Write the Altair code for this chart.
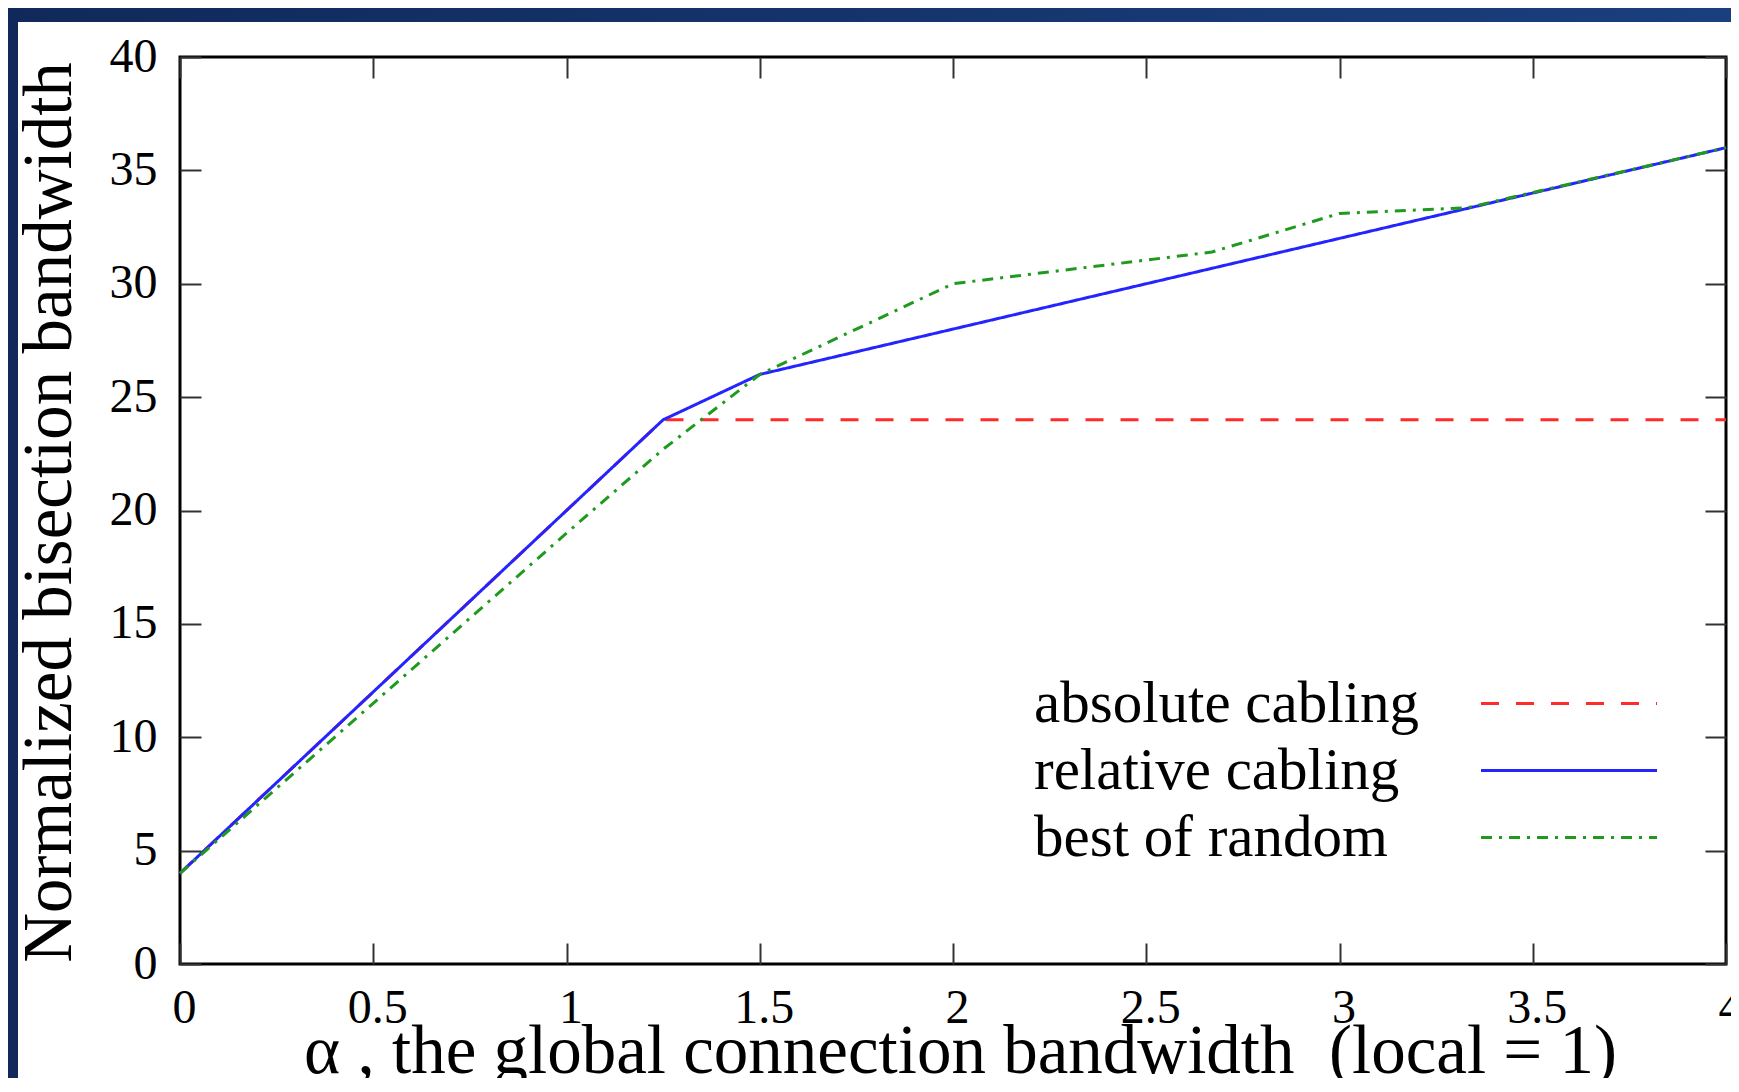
import altair as alt
import pandas as pd

# ---------------- data ----------------
series_names = ["absolute cabling", "relative cabling", "best of random"]
series_colors = ["#ff2a2a", "#2424ff", "#1f9a1f"]
series_dashes = [[18, 17], [1, 0], [11, 7, 3, 7]]

abs_x = [0, 1.25, 4]
abs_y = [4, 24, 24]

rel_x = [0, 1.25, 1.5, 4]
rel_y = [4, 24, 26, 36]

rnd_x = [0, 1, 1.25, 1.5, 2, 2.67, 3, 3.33, 4]
rnd_y = [4, 19, 22.7, 26, 30, 31.4, 33.1, 33.35, 36]

x_ticks = [0, 0.5, 1, 1.5, 2, 2.5, 3, 3.5, 4]
y_ticks = [0, 5, 10, 15, 20, 25, 30, 35, 40]

x_title = "\u03b1 , the global connection bandwidth \u00a0(local = 1)"
y_title = "Normalized bisection bandwidth"

# ---------------- table ----------------
rows = []
for name, xs, ys in zip(series_names, [abs_x, rel_x, rnd_x], [abs_y, rel_y, rnd_y]):
    for i, (xv, yv) in enumerate(zip(xs, ys)):
        rows.append({"series": name, "x": xv, "y": yv, "i": i})
df = pd.DataFrame(rows)

W, H = 1546, 907
PAD_L, PAD_T, PAD_R, PAD_B = 172, 49, 5, 114   # page has an 8px body margin
FONT = "Liberation Serif"

xscale = alt.Scale(domain=[0, 4], nice=False, zero=False)
yscale = alt.Scale(domain=[0, 40], nice=False, zero=False)
cscale = alt.Scale(domain=series_names, range=series_colors)
dscale = alt.Scale(domain=series_names, range=series_dashes)

# legend: labels on the left, line samples drawn further right by a custom symbol path
legend = alt.Legend(
    title=None, orient="none", legendX=795, legendY=617, direction="vertical",
    labelFont=FONT, labelFontSize=59, labelColor="black", labelLimit=2000,
    labelOffset=0, labelAlign="left",
    symbolType="M47.65,0H65.25", symbolSize=400, symbolStrokeWidth=3,
    rowPadding=7, padding=0, zindex=1,
)

tick_common = dict(offset=-21, tickSize=21, tickWidth=2, tickColor="#333333",
                   domain=False, grid=False, zindex=1)

axis_bottom = alt.Axis(
    orient="bottom", values=x_ticks, format="~g",
    labelFont=FONT, labelFontSize=48, labelColor="black", labelPadding=20,
    labelOffset=4, labelFlush=False, labelOverlap=False,
    title=x_title, titleFont=FONT, titleFontSize=69, titleFontWeight="normal",
    titleColor="black", titleX=780, titleY=129, titleBaseline="alphabetic",
    titleAlign="center", **tick_common)
axis_left = alt.Axis(
    orient="left", values=y_ticks, format="~g",
    labelFont=FONT, labelFontSize=48, labelColor="black", labelPadding=23,
    labelFlush=False, labelOverlap=False,
    title=y_title, titleFont=FONT, titleFontSize=69, titleFontWeight="normal",
    titleColor="black", titleX=-131, titleY=455, titleBaseline="alphabetic",
    titleAlign="center", titleAngle=270, **tick_common)
axis_top = alt.Axis(orient="top", values=x_ticks, labels=False, title=None, **tick_common)
axis_right = alt.Axis(orient="right", values=y_ticks, labels=False, title=None, **tick_common)

base = alt.Chart(df)

axes_bl = base.transform_filter(alt.datum.series == "relative cabling").mark_line(
    strokeOpacity=0).encode(
    x=alt.X("x:Q", scale=xscale, axis=axis_bottom),
    y=alt.Y("y:Q", scale=yscale, axis=axis_left),
)
axes_tr = base.transform_filter(alt.datum.series == "relative cabling").mark_line(
    strokeOpacity=0).encode(
    x=alt.X("x:Q", scale=xscale, axis=axis_top),
    y=alt.Y("y:Q", scale=yscale, axis=axis_right),
)


def series_layer(name):
    return base.transform_filter(alt.datum.series == name).mark_line(
        strokeWidth=3, strokeCap="butt").encode(
        x=alt.X("x:Q", scale=xscale, axis=None),
        y=alt.Y("y:Q", scale=yscale, axis=None),
        color=alt.Color("series:N", scale=cscale, legend=legend, sort=series_names),
        strokeDash=alt.StrokeDash("series:N", scale=dscale, legend=legend, sort=series_names),
        order=alt.Order("i:Q"),
    )


one = pd.DataFrame({"k": [0]})
band_grad = alt.Gradient(
    gradient="linear",
    stops=[alt.GradientStop(color="#10295a", offset=0),
           alt.GradientStop(color="#1a3f7e", offset=1)],
    x1=0, x2=1, y1=0, y2=0,
)
band_top = alt.Chart(one).mark_rect(fill=band_grad, clip=False).encode(
    x=alt.value(-PAD_L), x2=alt.value(W + PAD_R), y=alt.value(-PAD_T), y2=alt.value(-35))
band_left = alt.Chart(one).mark_rect(fill="#10295a", clip=False).encode(
    x=alt.value(-PAD_L), x2=alt.value(-162), y=alt.value(-PAD_T), y2=alt.value(H + PAD_B))

chart = alt.layer(
    band_top, band_left, axes_bl, axes_tr,
    series_layer("absolute cabling"),
    series_layer("relative cabling"),
    series_layer("best of random"),
).resolve_axis(x="independent", y="independent").properties(
    width=W, height=H,
    padding={"left": PAD_L, "top": PAD_T, "right": PAD_R, "bottom": PAD_B},
    autosize=alt.AutoSizeParams(type="none"),
    background="white",
).configure_view(stroke="black", strokeWidth=3)

chart.save("out.html", embed_options={"renderer": "svg", "actions": False})
